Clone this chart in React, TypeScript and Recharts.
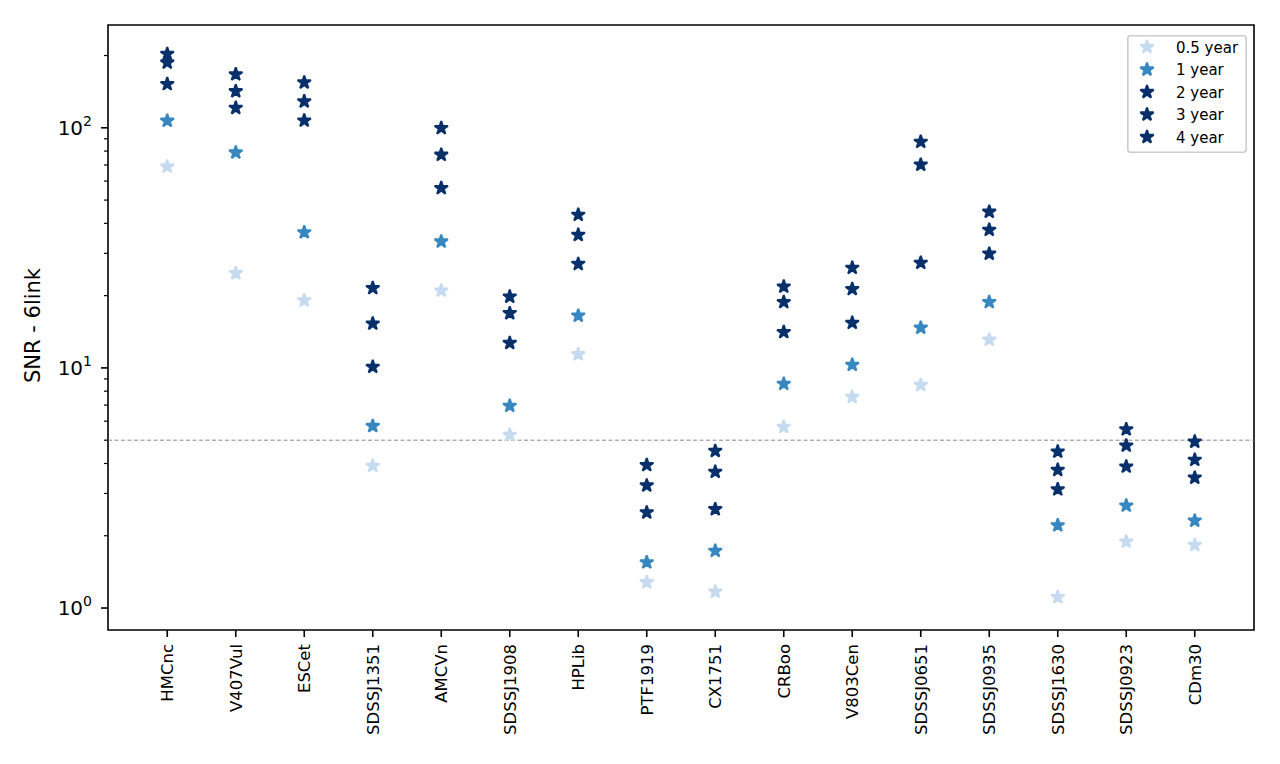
import {
  Legend,
  ReferenceArea,
  ReferenceLine,
  Scatter,
  ScatterChart,
  XAxis,
  YAxis,
} from "recharts";

// sources along the x axis
const sources = [
  "HMCnc", "V407Vul", "ESCet", "SDSSJ1351", "AMCVn", "SDSSJ1908", "HPLib", "PTF1919",
  "CX1751", "CRBoo", "V803Cen", "SDSSJ0651", "SDSSJ0935", "SDSSJ1630", "SDSSJ0923", "CDm30",
];

// SNR per mission duration
const snrHalfYear = [69, 24.8, 19.1, 3.91, 21.0, 5.26, 11.4, 1.28, 1.17, 5.68, 7.57, 8.49, 13.1, 1.11, 1.89, 1.83];
const snrOneYear = [107, 78.9, 36.7, 5.73, 33.6, 6.95, 16.5, 1.55, 1.73, 8.58, 10.3, 14.7, 18.8, 2.21, 2.67, 2.31];
const snrTwoYear = [152, 121, 107.2, 10.1, 56.1, 12.7, 27.1, 2.5, 2.58, 14.1, 15.4, 27.4, 29.9, 3.12, 3.88, 3.49];
const snrThreeYear = [187, 142, 128.8, 15.3, 77.2, 16.9, 35.8, 3.24, 3.69, 18.8, 21.3, 70.2, 37.6, 3.76, 4.75, 4.14];
const snrFourYear = [203, 167, 154.5, 21.5, 99.7, 19.8, 43.4, 3.94, 4.51, 21.8, 26.1, 87.4, 44.7, 4.48, 5.55, 4.93];

const threshold = 5;

const yTicks = [1, 2, 3, 4, 5, 6, 7, 8, 9, 10, 20, 30, 40, 50, 60, 70, 80, 90, 100, 200];
const majorExp: Record<number, string> = { 1: "0", 10: "1", 100: "2" };

const FONT = "DejaVu Sans";

const series = [
  { name: "0.5 year", values: snrHalfYear, color: "#c6dbef" },
  { name: "1 year", values: snrOneYear, color: "#3787c0" },
  { name: "2 year", values: snrTwoYear, color: "#08306b" },
  { name: "3 year", values: snrThreeYear, color: "#08306b" },
  { name: "4 year", values: snrFourYear, color: "#08306b" },
];

function starPoints(cx: number, cy: number, r: number) {
  const inner = r * 0.381966;
  const pts: string[] = [];
  for (let i = 0; i < 10; i++) {
    const rad = i % 2 === 0 ? r : inner;
    const a = -Math.PI / 2 + (i * Math.PI) / 5;
    pts.push(`${cx + rad * Math.cos(a)},${cy + rad * Math.sin(a)}`);
  }
  return pts.join(" ");
}

function Star({ cx, cy, fill }: { cx?: number; cy?: number; fill?: string }) {
  if (cx == null || cy == null) return null;
  return (
    <polygon
      points={starPoints(cx, cy, 7)}
      fill={fill}
      stroke={fill}
      strokeWidth={2}
      strokeLinejoin="bevel"
    />
  );
}

function YTick({ x, y, payload }: any) {
  const exp = majorExp[payload.value];
  const major = exp !== undefined;
  return (
    <g>
      <line x1={x - (major ? 7 : 4)} x2={x} y1={y} y2={y} stroke="#000" strokeWidth={major ? 1.6 : 1.2} />
      {major && (
        <text x={x - 16} y={y} dy={7} textAnchor="end" fontSize={20} fontFamily={FONT} fill="#000">
          10
          <tspan dy={-9} fontSize={14}>
            {exp}
          </tspan>
        </text>
      )}
    </g>
  );
}

function XTick({ x, y, payload }: any) {
  return (
    <g>
      <line x1={x} x2={x} y1={y} y2={y + 7} stroke="#000" strokeWidth={1.6} />
      <text
        x={x}
        y={y + 14}
        dy="0.36em"
        textAnchor="end"
        transform={`rotate(-90, ${x}, ${y + 14})`}
        fontSize={16.5}
        fontFamily={FONT}
        fill="#000"
      >
        {sources[payload.value]}
      </text>
    </g>
  );
}

function LegendBox({ payload }: any) {
  const items = payload ?? [];
  return (
    <svg width={120} height={118}>
      <rect x={0.8} y={0.8} width={118.4} height={116.4} rx={3} fill="#fff" fillOpacity={0.8} stroke="#cccccc" strokeWidth={1.6} />
      {items.map((it: any, i: number) => {
        const cy = 12 + i * 22.5;
        return (
          <g key={i}>
            <Star cx={20} cy={cy} fill={it.color} />
            <text x={49} y={cy + 5.5} fontSize={15} fontFamily={FONT} fill="#000">
              {it.value}
            </text>
          </g>
        );
      })}
    </svg>
  );
}

export default function App() {
  return (
    <div style={{ position: "absolute", left: 0, top: 0, background: "#fff" }}>
      <ScatterChart width={1280} height={764} margin={{ top: 25, right: 26, bottom: 34, left: 48 }}>
        <XAxis
          type="number"
          dataKey="x"
          domain={[-0.865, 15.865]}
          allowDataOverflow
          ticks={sources.map((_, i) => i)}
          interval={0}
          tick={<XTick />}
          tickLine={false}
          axisLine={false}
          tickSize={0}
          tickMargin={0}
          height={100}
        />
        <YAxis
          type="number"
          dataKey="y"
          scale="log"
          domain={[0.81, 268]}
          allowDataOverflow
          ticks={yTicks}
          interval={0}
          tick={<YTick />}
          tickLine={false}
          axisLine={false}
          tickSize={0}
          tickMargin={0}
          width={60}
          label={{
            value: "SNR - 6link",
            angle: -90,
            position: "center",
            dx: -45,
            dy: -2,
            fontSize: 21,
            fontFamily: FONT,
            fill: "#000",
          }}
        />
        <ReferenceLine y={threshold} stroke="#888" strokeWidth={1} strokeDasharray="4 2.5" />
        {series.map((s) => (
          <Scatter
            key={s.name}
            name={s.name}
            data={s.values.map((v, i) => ({ x: i, y: v }))}
            fill={s.color}
            shape={<Star />}
            isAnimationActive={false}
          />
        ))}
        <ReferenceArea
          x1={-0.865}
          x2={15.865}
          y1={0.81}
          y2={268}
          fill="none"
          stroke="#000"
          strokeWidth={1.6}
          ifOverflow="visible"
        />
        <Legend
          layout="vertical"
          align="center"
          verticalAlign="middle"
          wrapperStyle={{ left: 1127, top: 35, width: 120, height: 118 }}
          content={<LegendBox />}
        />
      </ScatterChart>
    </div>
  );
}
